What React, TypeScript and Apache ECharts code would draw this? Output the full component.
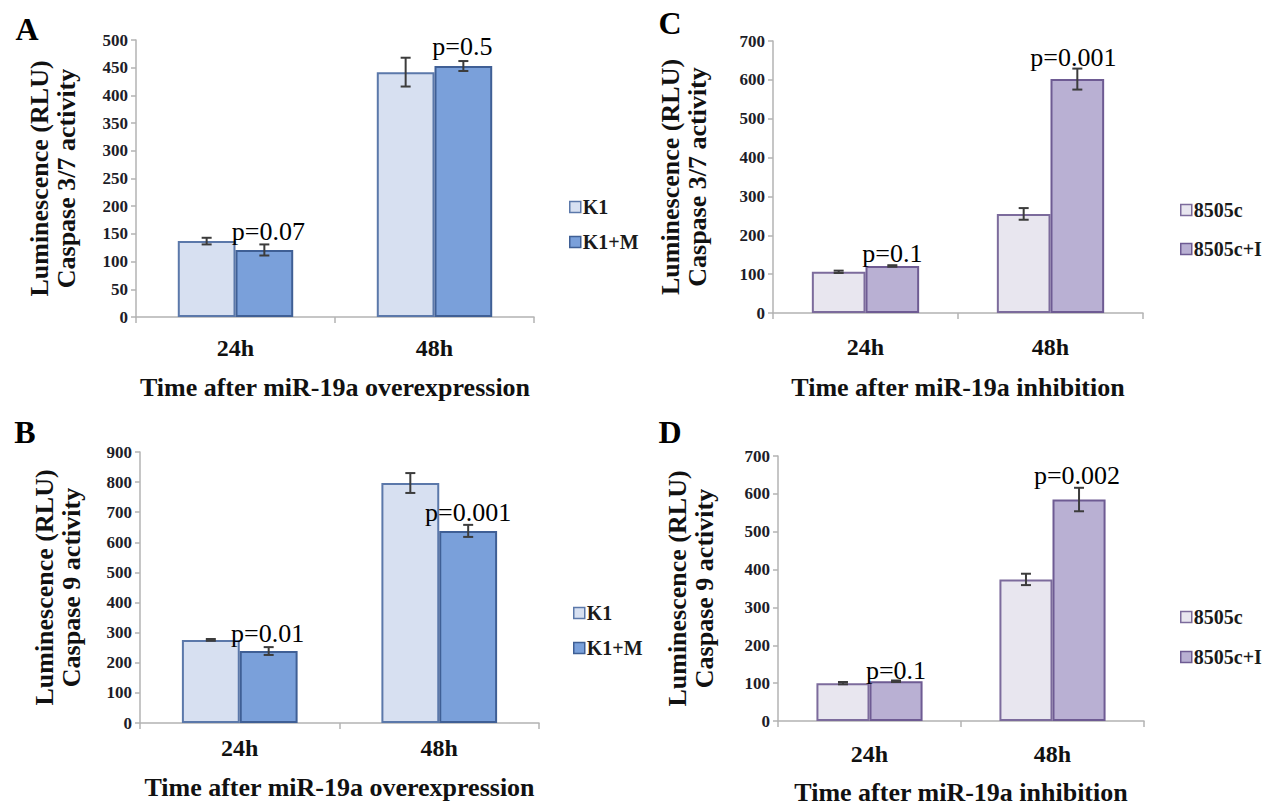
import React, { useEffect, useRef } from "react";
import * as echarts from "echarts";

// ---------- data ----------
const categories = ["24h", "48h"];

// Panel A: Caspase 3/7, miR-19a overexpression
const aK1 = [137, 442];
const aK1Err = [6, 26];
const aK1M = [121, 453];
const aK1MErr = [10, 9];
const aP = ["p=0.07", "p=0.5"];

// Panel B: Caspase 9, miR-19a overexpression
const bK1 = [276, 797];
const bK1Err = [3, 33];
const bK1M = [239, 638];
const bK1MErr = [13, 20];
const bP = ["p=0.01", "p=0.001"];

// Panel C: Caspase 3/7, miR-19a inhibition
const c8505 = [106, 255];
const c8505Err = [3, 15];
const c8505I = [121, 602];
const c8505IErr = [2, 27];
const cP = ["p=0.1", "p=0.001"];

// Panel D: Caspase 9, miR-19a inhibition
const d8505 = [100, 374];
const d8505Err = [3, 15];
const d8505I = [105, 585];
const d8505IErr = [2, 31];
const dP = ["p=0.1", "p=0.002"];

const yTicksA = { max: 500, interval: 50 };
const yTicksB = { max: 900, interval: 100 };
const yTicksC = { max: 700, interval: 100 };
const yTicksD = { max: 700, interval: 100 };

// ---------- styles ----------
const SERIF = "Liberation Serif";
const blue = {
  light: { fill: "#d7e0f1", border: "#5b78aa" },
  dark: { fill: "#7aa0da", border: "#3f5f95" },
};
const purple = {
  light: { fill: "#e8e6ef", border: "#7c6b9c" },
  dark: { fill: "#b9b0d3", border: "#6e5b93" },
};
const BAR_GAP_CAT = 0.42;

const panels = [
  {
    letter: "A", letterPos: [27, 29],
    names: ["K1", "K1+M"], colors: blue,
    light: aK1, lightErr: aK1Err, dark: aK1M, darkErr: aK1MErr, p: aP,
    pOffset: [[4, 0], [-1, -2]],
    yt: yTicksA,
    yName: "Luminescence (RLU)\nCaspase 3/7 activity",
    xName: "Time after miR-19a overexpression",
    grid: { left: 136, top: 40, width: 398, height: 277 },
    yNameGap: 56, xLabelMargin: 19, xNameGap: 57,
    legend: { left: 564, top: 192, itemGap: 15 },
  },
  {
    letter: "B", letterPos: [25, 432],
    names: ["K1", "K1+M"], colors: blue,
    light: bK1, lightErr: bK1Err, dark: bK1M, darkErr: bK1MErr, p: bP,
    pOffset: [[-1, 0], [0, 0]],
    yt: yTicksB,
    yName: "Luminescence (RLU)\nCaspase 9 activity",
    xName: "Time after miR-19a overexpression",
    grid: { left: 140, top: 452, width: 399, height: 271 },
    yNameGap: 55, xLabelMargin: 13, xNameGap: 51,
    legend: { left: 568, top: 598, itemGap: 15 },
  },
  {
    letter: "C", letterPos: [670, 23],
    names: ["8505c", "8505c+I"], colors: purple,
    light: c8505, lightErr: c8505Err, dark: c8505I, darkErr: c8505IErr, p: cP,
    pOffset: [[0, 6], [-4, -4]],
    yt: yTicksC,
    yName: "Luminescence (RLU)\nCaspase 3/7 activity",
    xName: "Time after miR-19a inhibition",
    grid: { left: 773, top: 41, width: 370, height: 272 },
    yNameGap: 62, xLabelMargin: 22, xNameGap: 61,
    legend: { left: 1175, top: 195, itemGap: 19 },
  },
  {
    letter: "D", letterPos: [670, 432],
    names: ["8505c", "8505c+I"], colors: purple,
    light: d8505, lightErr: d8505Err, dark: d8505I, darkErr: d8505IErr, p: dP,
    pOffset: [[0, 7], [-2, -6]],
    yt: yTicksD,
    yName: "Luminescence (RLU)\nCaspase 9 activity",
    xName: "Time after miR-19a inhibition",
    grid: { left: 778, top: 456, width: 366, height: 266 },
    yNameGap: 60, xLabelMargin: 21, xNameGap: 58,
    legend: { left: 1175, top: 602, itemGap: 20 },
  },
];

function errorSeries(idx: number, side: number, vals: number[], errs: number[]) {
  return {
    type: "custom",
    xAxisIndex: idx,
    yAxisIndex: idx,
    z: 5,
    silent: true,
    data: categories.map((_, i) => [i, vals[i], errs[i]]),
    renderItem: (params: any, api: any) => {
      const ci = api.value(0);
      const v = api.value(1);
      const e = api.value(2);
      const band = api.size([1, 0])[0];
      const bw = (band * (1 - BAR_GAP_CAT)) / 2;
      const cx = api.coord([ci, v])[0] + (side * bw) / 2;
      const yt = api.coord([ci, v + e])[1];
      const yb = api.coord([ci, v - e])[1];
      const st = { stroke: "#3c3c3c", lineWidth: 2 };
      const cap = 5;
      return {
        type: "group",
        children: [
          { type: "line", shape: { x1: cx, y1: yt, x2: cx, y2: yb }, style: st },
          { type: "line", shape: { x1: cx - cap, y1: yt, x2: cx + cap, y2: yt }, style: st },
          { type: "line", shape: { x1: cx - cap, y1: yb, x2: cx + cap, y2: yb }, style: st },
        ],
      };
    },
  };
}

function buildOption() {
  const grid: any[] = [];
  const xAxis: any[] = [];
  const yAxis: any[] = [];
  const series: any[] = [];
  const legend: any[] = [];
  const graphic: any[] = [];

  panels.forEach((p, idx) => {
    grid.push({ ...p.grid, containLabel: false });
    xAxis.push({
      type: "category",
      gridIndex: idx,
      data: categories,
      axisLine: { lineStyle: { color: "#b3b3b3", width: 1.5 } },
      axisTick: { show: true, length: 6, lineStyle: { color: "#b3b3b3", width: 1.5 } },
      axisLabel: {
        margin: p.xLabelMargin,
        color: "#111",
        fontFamily: SERIF,
        fontWeight: "bold",
        fontSize: 24,
      },
      name: p.xName,
      nameLocation: "middle",
      nameGap: p.xNameGap,
      nameTextStyle: { color: "#111", fontFamily: SERIF, fontWeight: "bold", fontSize: 26 },
      splitLine: { show: false },
    });
    yAxis.push({
      type: "value",
      gridIndex: idx,
      min: 0,
      max: p.yt.max,
      interval: p.yt.interval,
      axisLine: { show: true, lineStyle: { color: "#b3b3b3", width: 1.5 } },
      axisTick: { show: true, length: 5, lineStyle: { color: "#b3b3b3", width: 1.5 } },
      axisLabel: {
        margin: 8,
        color: "#1d1d28",
        fontFamily: SERIF,
        fontWeight: "bold",
        fontSize: 17,
      },
      splitLine: { show: false },
      name: p.yName,
      nameLocation: "middle",
      nameRotate: 90,
      nameGap: p.yNameGap,
      nameTextStyle: {
        color: "#111",
        fontFamily: SERIF,
        fontWeight: "bold",
        fontSize: 26,
        lineHeight: 27,
        align: "center",
      },
    });

    const barCommon = {
      type: "bar",
      xAxisIndex: idx,
      yAxisIndex: idx,
      barGap: "0%",
      barCategoryGap: BAR_GAP_CAT * 100 + "%",
    };
    series.push({
      ...barCommon,
      name: p.names[0],
      data: p.light,
      itemStyle: { color: p.colors.light.fill, borderColor: p.colors.light.border, borderWidth: 2 },
    });
    series.push({
      ...barCommon,
      name: p.names[1],
      itemStyle: { color: p.colors.dark.fill, borderColor: p.colors.dark.border, borderWidth: 2 },
      data: p.dark.map((v, i) => ({
        value: v,
        label: {
          show: true,
          position: "top",
          distance: 5,
          offset: p.pOffset[i],
          formatter: p.p[i],
          color: "#000",
          fontFamily: SERIF,
          fontWeight: "normal",
          fontSize: 26,
        },
      })),
    });
    series.push(errorSeries(idx, -1, p.light, p.lightErr));
    series.push(errorSeries(idx, 1, p.dark, p.darkErr));

    legend.push({
      orient: "vertical",
      left: p.legend.left,
      top: p.legend.top,
      itemGap: p.legend.itemGap,
      itemWidth: 11,
      itemHeight: 11,
      icon: "rect",
      selectedMode: false,
      data: [
        { name: p.names[0], itemStyle: { color: p.colors.light.fill, borderColor: p.colors.light.border, borderWidth: 1.5 } },
        { name: p.names[1], itemStyle: { color: p.colors.dark.fill, borderColor: p.colors.dark.border, borderWidth: 1.5 } },
      ],
      textStyle: {
        color: "#1a1a1a",
        fontFamily: SERIF,
        fontWeight: "bold",
        fontSize: 20,
        lineHeight: 20,
        padding: [0, 0, 0, -3],
      },
    });

    graphic.push({
      type: "text",
      x: p.letterPos[0],
      y: p.letterPos[1],
      style: {
        text: p.letter,
        fill: "#000",
        fontFamily: SERIF,
        fontWeight: "bold",
        fontSize: 32,
        align: "center",
        verticalAlign: "middle",
      },
    });
  });

  return {
    animation: false,
    backgroundColor: "#ffffff",
    grid,
    xAxis,
    yAxis,
    series,
    legend,
    graphic,
  };
}

export default function App() {
  const ref = useRef<HTMLDivElement>(null);
  useEffect(() => {
    if (!ref.current) return;
    const chart = echarts.init(ref.current, null, { renderer: "svg" });
    chart.setOption(buildOption() as any);
    return () => chart.dispose();
  }, []);
  return (
    <div
      ref={ref}
      style={{ position: "absolute", left: 0, top: 0, width: 1274, height: 806, background: "#fff" }}
    />
  );
}
